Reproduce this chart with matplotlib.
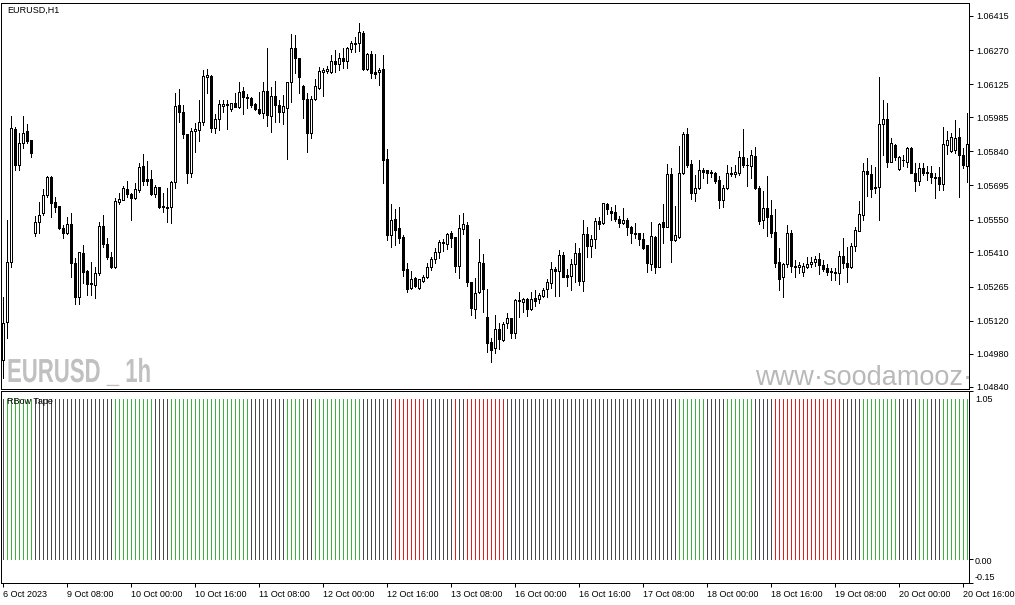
import matplotlib
matplotlib.use("Agg")
import matplotlib.pyplot as plt
from matplotlib.patheffects import AbstractPathEffect
from matplotlib.transforms import Affine2D
import numpy as np

# ---------------- data (EURUSD H1, 6 Oct 16:00 .. 20 Oct 17:00) ----------------
open_ = [
1.04953,1.05115,1.05370,1.05935,1.05782,1.05875,1.05926,1.05888,1.05493,1.05539,
1.05578,1.05654,1.05731,1.05624,1.05607,1.05514,1.05493,1.05531,1.05365,1.05221,
1.05408,1.05331,1.05280,1.05272,1.05323,1.05522,1.05446,1.05391,1.05348,1.05624,
1.05633,1.05680,1.05658,1.05641,1.05675,1.05777,1.05722,1.05722,1.05658,1.05688,
1.05607,1.05603,1.05603,1.05709,1.06037,1.06007,1.05913,1.05748,1.05926,1.05930,
1.05964,1.06156,1.06160,1.05939,1.05977,1.06032,1.06041,1.06020,1.06045,1.06028,
1.06096,1.06071,1.06066,1.06041,1.06020,1.06003,1.06096,1.05990,1.06075,1.06037,
1.06007,1.06024,1.06134,1.06279,1.06236,1.06117,1.06062,1.05918,1.06062,1.06109,
1.06177,1.06181,1.06177,1.06224,1.06211,1.06236,1.06224,1.06275,1.06296,1.06300,
1.06343,1.06190,1.06253,1.06177,1.06177,1.06190,1.05807,1.05484,1.05552,1.05514,
1.05476,1.05340,1.05259,1.05301,1.05259,1.05289,1.05306,1.05348,1.05382,1.05412,
1.05450,1.05446,1.05493,1.05476,1.05352,1.05510,1.05527,1.05284,1.05170,1.05242,
1.05365,1.05136,1.05029,1.05004,1.05085,1.05038,1.05110,1.05131,1.05068,1.05208,
1.05199,1.05212,1.05170,1.05216,1.05212,1.05225,1.05255,1.05280,1.05340,1.05331,
1.05399,1.05314,1.05310,1.05361,1.05408,1.05289,1.05488,1.05437,1.05467,1.05544,
1.05535,1.05616,1.05586,1.05582,1.05552,1.05535,1.05548,1.05518,1.05493,1.05493,
1.05467,1.05442,1.05361,1.05476,1.05348,1.05539,1.05518,1.05743,1.05463,1.05476,
1.05748,1.05913,1.05786,1.05663,1.05684,1.05761,1.05761,1.05752,1.05748,1.05718,
1.05633,1.05684,1.05743,1.05743,1.05748,1.05816,1.05782,1.05777,1.05820,1.05684,
1.05548,1.05599,1.05569,1.05497,1.05370,1.05306,1.05361,1.05493,1.05352,1.05348,
1.05327,1.05348,1.05361,1.05370,1.05382,1.05357,1.05344,1.05331,1.05327,1.05323,
1.05395,1.05365,1.05348,1.05437,1.05501,1.05569,1.05756,1.05743,1.05684,1.05688,
1.05956,1.05977,1.05794,1.05867,1.05765,1.05803,1.05794,1.05854,1.05748,1.05714,
1.05769,1.05752,1.05748,1.05731,1.05731,1.05701,1.05867,1.05841,1.05845,1.05901,
1.05824,1.05777]

high = [
1.05221,1.05548,1.05990,1.05943,1.05918,1.05990,1.05956,1.05888,1.05565,1.05624,
1.05680,1.05735,1.05735,1.05646,1.05607,1.05527,1.05561,1.05578,1.05386,1.05412,
1.05442,1.05335,1.05370,1.05348,1.05539,1.05569,1.05471,1.05412,1.05641,1.05663,
1.05692,1.05714,1.05663,1.05705,1.05790,1.05828,1.05799,1.05761,1.05697,1.05688,
1.05663,1.05684,1.05714,1.06088,1.06105,1.06037,1.05913,1.05939,1.05960,1.06058,
1.06185,1.06190,1.06164,1.05998,1.06058,1.06058,1.06058,1.06045,1.06088,1.06134,
1.06113,1.06083,1.06071,1.06045,1.06092,1.06134,1.06279,1.06113,1.06139,1.06058,
1.06079,1.06134,1.06338,1.06334,1.06236,1.06122,1.06088,1.06075,1.06147,1.06198,
1.06194,1.06202,1.06249,1.06270,1.06258,1.06279,1.06283,1.06309,1.06326,1.06385,
1.06351,1.06258,1.06266,1.06253,1.06194,1.06249,1.05850,1.05616,1.05595,1.05603,
1.05484,1.05365,1.05331,1.05306,1.05297,1.05314,1.05365,1.05391,1.05429,1.05463,
1.05467,1.05493,1.05501,1.05476,1.05569,1.05578,1.05539,1.05284,1.05301,1.05467,
1.05403,1.05255,1.05047,1.05144,1.05110,1.05115,1.05153,1.05131,1.05212,1.05242,
1.05216,1.05216,1.05242,1.05250,1.05238,1.05259,1.05297,1.05370,1.05348,1.05420,
1.05412,1.05340,1.05382,1.05450,1.05429,1.05548,1.05518,1.05484,1.05556,1.05561,
1.05620,1.05620,1.05603,1.05612,1.05565,1.05599,1.05556,1.05522,1.05535,1.05493,
1.05493,1.05442,1.05539,1.05480,1.05535,1.05616,1.05786,1.05769,1.05607,1.05862,
1.05922,1.05939,1.05803,1.05739,1.05803,1.05769,1.05761,1.05761,1.05752,1.05735,
1.05697,1.05782,1.05773,1.05782,1.05841,1.05935,1.05811,1.05845,1.05858,1.05692,
1.05671,1.05735,1.05633,1.05595,1.05429,1.05365,1.05527,1.05505,1.05378,1.05370,
1.05365,1.05391,1.05391,1.05395,1.05408,1.05378,1.05361,1.05344,1.05344,1.05416,
1.05471,1.05433,1.05450,1.05518,1.05629,1.05790,1.05811,1.05782,1.05773,1.06156,
1.06058,1.06045,1.05896,1.05871,1.05820,1.05824,1.05858,1.05858,1.05790,1.05790,
1.05790,1.05777,1.05777,1.05748,1.05773,1.05943,1.05926,1.05918,1.05973,1.05939,
1.05854,1.06003]

low = [
1.04877,1.05047,1.05348,1.05761,1.05761,1.05854,1.05875,1.05816,1.05480,1.05493,
1.05569,1.05646,1.05561,1.05582,1.05510,1.05471,1.05488,1.05306,1.05191,1.05191,
1.05280,1.05229,1.05229,1.05216,1.05314,1.05433,1.05382,1.05344,1.05344,1.05616,
1.05633,1.05646,1.05548,1.05637,1.05667,1.05697,1.05697,1.05654,1.05646,1.05599,
1.05582,1.05539,1.05535,1.05684,1.05964,1.05896,1.05705,1.05731,1.05837,1.05884,
1.05952,1.06088,1.05922,1.05918,1.05930,1.06007,1.05935,1.06011,1.06028,1.06024,
1.05998,1.06024,1.06028,1.06015,1.05998,1.05981,1.05947,1.05922,1.05964,1.05964,
1.05956,1.05807,1.06049,1.06173,1.06088,1.05981,1.05837,1.05896,1.06058,1.06105,
1.06075,1.06173,1.06173,1.06177,1.06185,1.06194,1.06194,1.06262,1.06262,1.06266,
1.06185,1.06185,1.06151,1.06151,1.06122,1.05705,1.05463,1.05433,1.05442,1.05450,
1.05310,1.05242,1.05255,1.05263,1.05255,1.05284,1.05301,1.05335,1.05365,1.05386,
1.05416,1.05425,1.05433,1.05327,1.05301,1.05488,1.05267,1.05144,1.05131,1.05238,
1.05157,1.04987,1.04944,1.04983,1.05000,1.05034,1.05089,1.05047,1.05047,1.05136,
1.05157,1.05140,1.05165,1.05182,1.05195,1.05221,1.05221,1.05259,1.05225,1.05225,
1.05306,1.05267,1.05250,1.05284,1.05272,1.05246,1.05391,1.05391,1.05429,1.05510,
1.05531,1.05573,1.05548,1.05544,1.05518,1.05531,1.05484,1.05450,1.05471,1.05442,
1.05425,1.05327,1.05335,1.05323,1.05348,1.05450,1.05518,1.05370,1.05459,1.05471,
1.05743,1.05773,1.05637,1.05629,1.05680,1.05726,1.05705,1.05731,1.05705,1.05599,
1.05603,1.05680,1.05735,1.05731,1.05739,1.05773,1.05692,1.05726,1.05680,1.05531,
1.05514,1.05480,1.05476,1.05348,1.05250,1.05221,1.05348,1.05327,1.05306,1.05323,
1.05310,1.05344,1.05348,1.05352,1.05318,1.05331,1.05314,1.05293,1.05293,1.05276,
1.05344,1.05284,1.05344,1.05416,1.05501,1.05548,1.05650,1.05646,1.05663,1.05548,
1.05824,1.05773,1.05794,1.05803,1.05761,1.05777,1.05773,1.05748,1.05671,1.05697,
1.05739,1.05718,1.05705,1.05641,1.05675,1.05675,1.05828,1.05837,1.05833,1.05646,
1.05769,1.05709]

close = [
1.05110,1.05370,1.05939,1.05782,1.05875,1.05918,1.05884,1.05833,1.05539,1.05569,
1.05654,1.05731,1.05620,1.05603,1.05514,1.05493,1.05531,1.05365,1.05221,1.05412,
1.05327,1.05276,1.05278,1.05323,1.05522,1.05446,1.05391,1.05348,1.05629,1.05637,
1.05684,1.05658,1.05641,1.05680,1.05773,1.05714,1.05714,1.05658,1.05688,1.05603,
1.05603,1.05601,1.05709,1.06032,1.06007,1.05913,1.05748,1.05926,1.05935,1.05964,
1.06160,1.06164,1.05939,1.05977,1.06041,1.06041,1.06037,1.06045,1.06028,1.06092,
1.06071,1.06066,1.06037,1.06020,1.06003,1.06096,1.05994,1.06075,1.06037,1.06007,
1.06032,1.06134,1.06279,1.06236,1.06156,1.06062,1.05918,1.06062,1.06117,1.06181,
1.06185,1.06190,1.06224,1.06211,1.06236,1.06224,1.06279,1.06300,1.06300,1.06347,
1.06190,1.06253,1.06173,1.06168,1.06185,1.05803,1.05484,1.05548,1.05505,1.05471,
1.05335,1.05255,1.05297,1.05267,1.05297,1.05306,1.05348,1.05382,1.05412,1.05454,
1.05454,1.05488,1.05471,1.05352,1.05514,1.05531,1.05284,1.05174,1.05238,1.05370,
1.05255,1.05025,1.04995,1.05085,1.05042,1.05106,1.05131,1.05068,1.05208,1.05204,
1.05212,1.05170,1.05212,1.05204,1.05229,1.05250,1.05284,1.05340,1.05331,1.05399,
1.05306,1.05304,1.05361,1.05408,1.05289,1.05488,1.05437,1.05467,1.05544,1.05531,
1.05620,1.05595,1.05578,1.05552,1.05535,1.05548,1.05518,1.05493,1.05488,1.05467,
1.05429,1.05365,1.05480,1.05348,1.05531,1.05518,1.05743,1.05463,1.05484,1.05748,
1.05913,1.05782,1.05663,1.05684,1.05761,1.05752,1.05748,1.05748,1.05714,1.05633,
1.05684,1.05748,1.05748,1.05750,1.05816,1.05782,1.05780,1.05824,1.05684,1.05544,
1.05599,1.05561,1.05493,1.05365,1.05297,1.05361,1.05493,1.05352,1.05348,1.05357,
1.05352,1.05361,1.05370,1.05382,1.05357,1.05340,1.05327,1.05327,1.05323,1.05395,
1.05365,1.05348,1.05437,1.05505,1.05573,1.05756,1.05743,1.05680,1.05688,1.05956,
1.05977,1.05794,1.05875,1.05816,1.05816,1.05801,1.05854,1.05748,1.05714,1.05769,
1.05748,1.05748,1.05731,1.05726,1.05701,1.05871,1.05888,1.05901,1.05896,1.05824,
1.05782,1.05871]

price_ticks = [1.06415, 1.06270, 1.06125, 1.05985, 1.05840, 1.05695,
               1.05550, 1.05410, 1.05265, 1.05120, 1.04980, 1.04840]
price_labels = ["1.06415", "1.06270", "1.06125", "1.05985", "1.05840", "1.05695",
                "1.05550", "1.05410", "1.05265", "1.05120", "1.04980", "1.04840"]

date_labels = ["6 Oct 2023", "9 Oct 08:00", "10 Oct 00:00", "10 Oct 16:00",
               "11 Oct 08:00", "12 Oct 00:00", "12 Oct 16:00", "13 Oct 08:00",
               "16 Oct 00:00", "16 Oct 16:00", "17 Oct 08:00", "18 Oct 00:00",
               "18 Oct 16:00", "19 Oct 08:00", "20 Oct 00:00", "20 Oct 16:00"]
bars_per_label = 16

# RBow Tape state per bar: g = up (green), k = neutral (gray), r = down (red)
tape_runs = [("k", 1), ("g", 7), ("k", 20), ("g", 10), ("k", 4), ("g", 20),
             ("k", 9), ("g", 4), ("k", 3), ("g", 12), ("k", 8), ("r", 8),
             ("k", 7), ("r", 1), ("k", 2), ("r", 10), ("k", 43), ("g", 7),
             ("k", 5), ("g", 7), ("k", 5), ("r", 17), ("k", 5), ("g", 9),
             ("k", 5), ("g", 3), ("k", 3), ("g", 7)]
tape_level = 1.0
sub_ticks = [1.05, 0.00, -0.15]
sub_labels = ["1.05", "0.00", "-0.15"]

# ---------------- figure ----------------
W, H = 1015, 605
DPI = 100
PX = 72.0 / DPI  # one pixel in points
fig = plt.figure(figsize=(W / DPI, H / DPI), dpi=DPI)
fig.patch.set_facecolor("white")

def box(x0, y0, x1, y1):
    return [x0 / W, 1 - y1 / H, (x1 - x0) / W, (y1 - y0) / H]

ax = fig.add_axes(box(1, 3, 969, 389))
ax2 = fig.add_axes(box(1, 391, 969, 583))

font = "Liberation Sans"
o = np.array(open_); h = np.array(high); l = np.array(low); c = np.array(close)
n = len(o)
x = np.arange(n)

ax.vlines(x, l, h, color="black", lw=PX, antialiased=False, zorder=2)
up = c >= o
ax.bar(x, np.abs(c - o), bottom=np.minimum(o, c), width=0.5,
       color=np.where(up, "white", "black"), edgecolor="black",
       linewidth=PX, antialiased=False, zorder=3)

ax.set_xlim(-0.425, 241.575)
ax.set_ylim(1.04830, 1.06470)
ax.yaxis.tick_right()
ax.set_yticks(price_ticks)
ax.set_yticklabels(price_labels, family=font, fontsize=6.5)
ax.tick_params(axis="y", length=3, width=PX, pad=2, colors="black")
ax.set_xticks([])
for s in ax.spines.values():
    s.set_linewidth(PX)
    s.set_color("black")


class HSqueeze(AbstractPathEffect):
    """Draw text glyphs horizontally condensed about a fixed display x."""
    def __init__(self, sx, x0):
        super().__init__()
        self.sx, self.x0 = sx, x0

    def draw_path(self, renderer, gc, tpath, affine, rgbFace=None):
        sq = Affine2D().translate(-self.x0, 0).scale(self.sx, 1).translate(self.x0, 0)
        renderer.draw_path(gc, tpath, affine + sq, rgbFace)


# watermarks / captions
fig.text(7 / W, 1 - 10 / H, "EURUSD,H1", family=font, fontsize=6.5,
         ha="left", va="center")
fig.text(7 / W, 1 - 382 / H, "EURUSD _ 1h", family=font,
         fontweight="bold", fontsize=24, color="#c0c0c0", ha="left",
         va="baseline", path_effects=[HSqueeze(0.665, 7)])
ax.text(755 / W, 1 - 385 / H, "www·soodamooz·com", transform=fig.transFigure,
        family=font, fontsize=19.5, color="#b9b9b9", ha="left",
        va="baseline", clip_on=True)

# ---------------- RBow Tape panel ----------------
cmap = {"g": "#3cb43c", "k": "#4a4a4a", "r": "#e41c1c"}
states = "".join(s * k for s, k in tape_runs)
tape_colors = [cmap[s] for s in states]
ax2.vlines(x, 0, np.full(n, tape_level), colors=tape_colors, lw=PX,
           antialiased=False)
ax2.set_xlim(ax.get_xlim())
ax2.set_ylim(-0.15, 1.05)
ax2.yaxis.tick_right()
ax2.set_yticks(sub_ticks)
ax2.set_yticklabels([""] * len(sub_ticks))
ax2.tick_params(axis="y", length=3, width=PX, pad=2)
for s in ax2.spines.values():
    s.set_linewidth(PX)
    s.set_color("black")
label_y = [399, 561, 578]
for lab, yy in zip(sub_labels, label_y):
    fig.text(975 / W, 1 - yy / H, lab, family=font, fontsize=6.5,
             ha="left", va="center")
fig.text(7 / W, 1 - 401 / H, "RBow Tape", family=font, fontsize=6.5,
         ha="left", va="center")

ax2.set_xticks(np.arange(0, n, bars_per_label)[:len(date_labels)])
ax2.set_xticklabels(date_labels, family=font, fontsize=6.5, ha="left")
ax2.tick_params(axis="x", length=3, width=PX, pad=2)

fig.savefig("out.png", dpi=DPI, facecolor="white")
